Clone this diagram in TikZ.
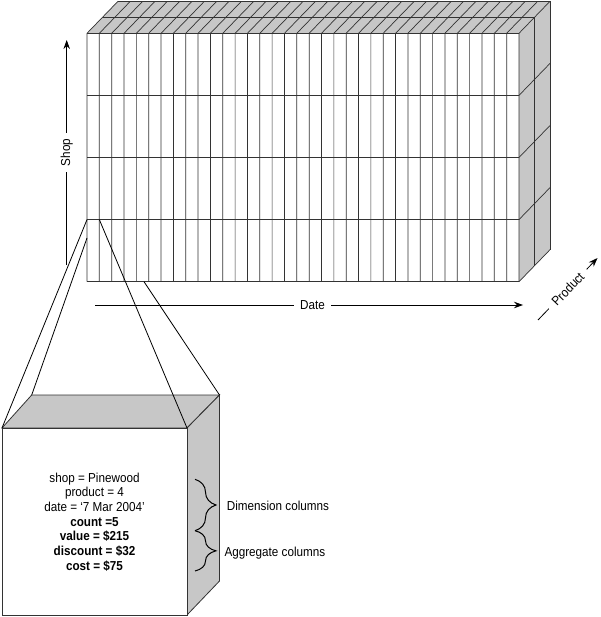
\documentclass[tikz,border=0pt]{standalone}
\usepackage{fontspec}
\setmainfont{Liberation Sans}[FakeStretch=0.9]
\usetikzlibrary{arrows.meta,decorations.pathreplacing}
\begin{document}
\begin{tikzpicture}[x=1pt,y=-1pt, font=\fontsize{13}{14.7}\selectfont,
  edge/.style={draw=black!80, line width=0.7pt},
  shade/.style={fill=black!22},
  zoomline/.style={draw=black, line width=0.8pt},
  axis/.style={draw=black, line width=0.8pt, -{Stealth[length=9pt,width=6.5pt]}},
  axlabel/.style={fill=white, inner sep=6pt},
  bracket/.style={draw=black, line width=1pt, decorate, decoration={brace, amplitude=21pt}}]
\useasboundingbox (0,0) rectangle (600,617);

% ---- big cube ----
\fill[shade] (87,33.3) -- (519,33.3) -- (550,1.3) -- (118,1.3) -- cycle;
\fill[shade] (519,33.3) -- (550,1.3) -- (550,249.7) -- (519,281.7) -- cycle;
\fill[white] (87,33.3) rectangle (519,281.7);
\foreach \i in {0,...,35} {
  \draw[edge] ({87+\i*432/35},281.7) -- ({87+\i*432/35},33.3) -- ++(31,-32);
}
\foreach \y in {33.3,95.4,157.5,219.6,281.7} \draw[edge] (87,\y) -- (519,\y);
\foreach \y in {95.4,157.5,219.6,281.7} \draw[edge] (519,\y) -- ++(31,-32);
\draw[edge] (102.5,17.3) -- (534.5,17.3) -- (534.5,265.7);
\draw[edge] (118,1.3) -- (550,1.3) -- (550,249.7);

% ---- axes ----
\coordinate (shopS) at (66.7,265);
\coordinate (shopE) at (66.7,40);
\draw[axis] (shopS) -- node[axlabel, rotate=90] (shoplbl) {Shop} (shopE);
\coordinate (dateS) at (95,305);
\coordinate (dateE) at (523,305);
\draw[axis] (dateS) -- node[axlabel, pos=0.508] (datelbl) {Date} (dateE);
\coordinate (prodS) at (538,320);
\coordinate (prodE) at (597.5,258);
\draw[axis] (prodS) -- node[axlabel, sloped, inner sep=7pt] (prodlbl) {Product} (prodE);

% ---- small cube ----
\coordinate (fTL) at (2,428);
\coordinate (fTR) at (187,428);
\coordinate (fBR) at (187,615);
\coordinate (fBL) at (2,615);
\coordinate (bTL) at (31.7,395);
\coordinate (bTR) at (219.5,395);
\coordinate (bBR) at (219.5,581);
\filldraw[shade, draw=black!80, line width=0.8pt] (fTL) -- (bTL) -- (bTR) -- (fTR) -- cycle;
\filldraw[shade, draw=black!80, line width=0.8pt] (fTR) -- (bTR) -- (bBR) -- (fBR) -- cycle;
\filldraw[fill=white, draw=black!80, line width=0.8pt] (fTL) rectangle (fBR);

% ---- zoom lines ----
\coordinate (cellTL) at (87,219.6);
\coordinate (cellTR) at ({87+432/35},219.6);
\coordinate (cellL) at (87,238);
\coordinate (cellB) at (144,281.7);
\draw[zoomline] (cellTL) -- (fTL);
\draw[zoomline] (cellL) -- (bTL);
\draw[zoomline] (cellTR) -- (fTR);
\draw[zoomline] (cellB) -- (bTR);

% ---- cell contents ----
\node[align=center, inner sep=0pt] (cell) at (94.5,522) {shop = Pinewood\\product = 4\\date = `7 Mar 2004'\\\textbf{count =5}\\\textbf{value = \$215}\\\textbf{discount = \$32}\\\textbf{cost = \$75}};

% ---- braces and labels ----
\coordinate (b1s) at (195,479.3);
\coordinate (b1e) at (195,530.7);
\coordinate (b2s) at (195,530.7);
\coordinate (b2e) at (195,571);
\draw[bracket] (b1s) -- (b1e);
\draw[bracket] (b2s) -- (b2e);
\node[anchor=base west, inner sep=0pt] (dim) at (226.7,510) {Dimension columns};
\node[anchor=base west, inner sep=0pt] (agg) at (224.3,556.7) {Aggregate columns};
\end{tikzpicture}
\end{document}
